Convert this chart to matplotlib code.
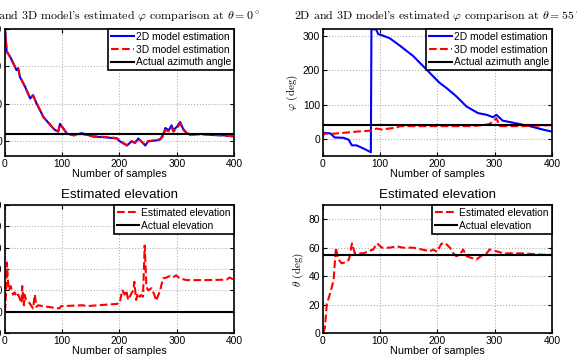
import numpy as np
import matplotlib
matplotlib.use("Agg")
import matplotlib.pyplot as plt

plt.rcParams['font.family'] = ['Liberation Sans', 'DejaVu Sans']
plt.rcParams['mathtext.fontset'] = 'cm'

# azimuth, theta = 0
az0_x = [0, 3, 9, 20, 23, 26, 35, 44, 49, 55, 67, 79, 87, 93, 96, 102, 108, 120, 134, 154,
         175, 195, 201, 213, 221, 227, 233, 245, 250, 265, 271, 277, 280, 286, 291, 294, 300,
         306, 311, 317, 323, 341, 364, 387, 400]
az0_2d = [300, 239, 226, 190, 195, 172, 146, 114, 123, 101, 65, 43, 30, 25, 46, 34, 20, 16, 21, 12,
          10, 7, -1, -12, -1, -5, 7, -12, -1, 2, 4, 20, 35, 29, 42, 29, 38,
          51, 33, 22, 17, 19, 16, 15, 12]
az0_3d = [300, 241, 224, 192, 193, 174, 144, 116, 121, 103, 63, 44, 29, 26, 44, 33, 21, 15, 19, 13,
          11, 8, 0, -11, 0, -4, 6, -10, 0, 3, 5, 14, 30, 26, 36, 25, 34,
          47, 31, 21, 18, 18, 17, 14, 13]
az0_true = 20

# azimuth, theta = 55
az55_x2 = [0, 13, 21, 36, 45, 51, 59, 71, 84, 85, 93, 97, 103, 117, 135, 158, 181, 204, 216,
           233, 251, 271, 286, 297, 303, 314, 338, 361, 384, 400]
az55_2d = [18, 16, 4, 3, -2, -19, -19, -28, -39, 319, 319, 305, 302, 293, 271, 241, 202, 163, 148,
           124, 94, 75, 70, 63, 70, 53, 45, 37, 27, 21]
az55_x3 = [0, 2, 20, 59, 85, 94, 103, 129, 135, 175, 257, 280, 291, 303, 309, 350, 400]
az55_3d = [5, 15, 15, 21, 24, 30, 27, 33, 37, 37, 37, 40, 43, 60, 37, 37, 40]
az55_true = 40

# elevation, theta = 0
el0_x = [0, 2, 3.5, 5, 7, 10, 14, 17, 20, 23, 26, 29, 30, 33, 34, 37, 43, 49, 52, 55, 58, 66,
         95, 98, 136, 142, 194, 200, 205, 209, 212, 215, 221, 224, 226, 229, 232, 235, 238, 241,
         244, 247, 250, 256, 261, 264, 271, 276, 282, 288, 293, 299, 305, 317, 352, 387, 392, 400]
el0_est = [0, 10, 23, 15, 10, 12, 8, 9, 7, 8, 6, 4, 12, 3, 8, 5.5, 4, 1.5, 8, 2.3, 3, 2.6,
           1.5, 2.6, 3, 2.6, 3.6, 3.9, 10, 8, 10, 5.5, 8.6, 10, 14, 5.5, 8.6, 7, 7.8, 7,
           31, 11.7, 10, 11, 7.8, 5.1, 10, 15.6, 16, 16.7, 16, 17, 15.6, 14.8, 14.8, 15, 16, 15]
el0_true = 0

# elevation, theta = 55
el55_x = [1, 4, 7, 13, 19, 23, 27, 33, 42, 46, 51, 56, 71, 80, 88, 95, 103, 117, 129, 140, 158,
          170, 187, 193, 199, 207, 213, 222, 228, 233, 239, 245, 251, 268, 277, 286, 291, 303,
          315, 350, 384, 400]
el55_est = [0, 4, 20, 28, 37, 60, 52, 49, 50, 52, 63, 56, 56, 57.5, 58.7, 63, 60, 60, 61, 60, 60,
            59, 57.5, 58.7, 57, 62.7, 63.4, 60, 56, 54, 55, 58.7, 54, 51.6, 54.4, 56, 58.7, 57.5,
            56, 56, 55, 55]
el55_true = 55

title_fmt = r"2D and 3D model's estimated $\varphi$ comparison at $\theta = {}^\circ$"

fig = plt.figure(figsize=(5.77, 3.58), dpi=100)
W, H = 577.0, 358.0
ax1 = fig.add_axes([5 / W, 1 - 156 / H, 229 / W, 127 / H])
ax2 = fig.add_axes([322.7 / W, 1 - 156 / H, 229.3 / W, 127 / H])
ax3 = fig.add_axes([5 / W, 1 - 333 / H, 229 / W, 128 / H])
ax4 = fig.add_axes([322.7 / W, 1 - 333 / H, 229.3 / W, 128 / H])

leg_kw = dict(loc='upper right', borderaxespad=0, fancybox=False, edgecolor='black',
              framealpha=1, handlelength=2.2, handletextpad=0.2, borderpad=0.3,
              labelspacing=0.25, fontsize=7.4)

ax1.plot(az0_x, az0_2d, color='blue', lw=1.5, label='2D model estimation')
ax1.plot(az0_x, az0_3d, color='red', lw=1.5, ls='--', label='3D model estimation')
ax1.axhline(az0_true, color='black', lw=1.5, label='Actual azimuth angle')
ax1.set_ylim(-40, 300)
ax1.set_yticks([0, 100, 200, 300])
ax1.set_title(title_fmt.format(0), fontfamily='cmr10', fontsize=8.6, pad=7)
ax1.set_ylabel(r'$\varphi$ (deg)', fontfamily='cmr10')

ax2.plot(az55_x2, az55_2d, color='blue', lw=1.5, label='2D model estimation')
ax2.plot(az55_x3, az55_3d, color='red', lw=1.5, ls='--', label='3D model estimation')
ax2.axhline(az55_true, color='black', lw=1.5, label='Actual azimuth angle')
ax2.set_ylim(-50, 320)
ax2.set_yticks([0, 100, 200, 300])
ax2.set_title(title_fmt.format(55), fontfamily='cmr10', fontsize=8.6, pad=7)
ax2.set_ylabel(r'$\varphi$ (deg)', fontfamily='cmr10', fontsize=8, labelpad=2)

ax3.plot(el0_x, el0_est, color='red', lw=1.5, ls='--', label='Estimated elevation')
ax3.axhline(el0_true, color='black', lw=1.5, label='Actual elevation')
ax3.set_ylim(-10, 50)
ax3.set_yticks(np.arange(-10, 51, 10))
ax3.set_title('Estimated elevation', fontsize=9.6, pad=5)
ax3.set_ylabel(r'$\theta$ (deg)', fontfamily='cmr10')

ax4.plot(el55_x, el55_est, color='red', lw=1.5, ls='--', label='Estimated elevation')
ax4.axhline(el55_true, color='black', lw=1.5, label='Actual elevation')
ax4.set_ylim(0, 90)
ax4.set_yticks([0, 20, 40, 60, 80])
ax4.set_title('Estimated elevation', fontsize=9.6, pad=5)
ax4.set_ylabel(r'$\theta$ (deg)', fontfamily='cmr10', fontsize=8, labelpad=2)

for ax in (ax1, ax2, ax3, ax4):
    ax.set_xlim(0, 400)
    ax.set_xticks([0, 100, 200, 300, 400])
    ax.grid(True, color='#b0b0b0', ls=':', lw=0.8)
    ax.tick_params(direction='in', length=3, width=0.8, labelsize=7.4, pad=2,
                   top=True, right=True)
    ax.set_xlabel('Number of samples', fontsize=7.8, labelpad=0)
    for s in ax.spines.values():
        s.set_linewidth(1.2)
    leg = ax.legend(**leg_kw)
    leg.get_frame().set_linewidth(1.2)

fig.savefig('out.png', dpi=100)
